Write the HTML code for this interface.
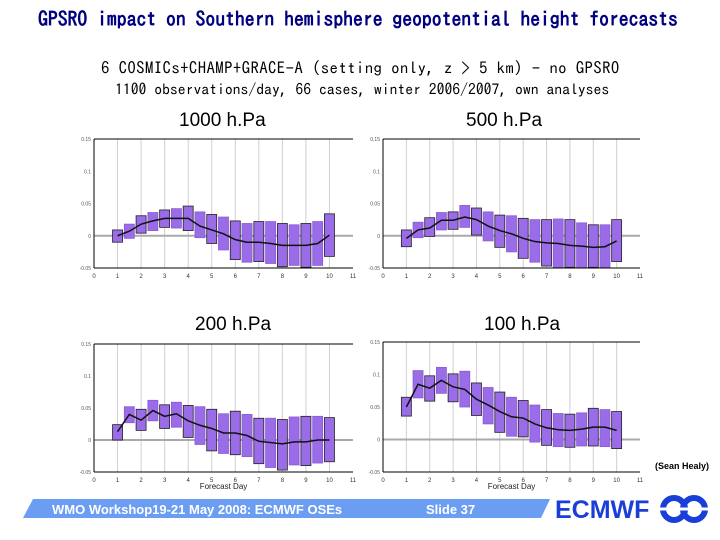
<!DOCTYPE html>
<html><head><meta charset="utf-8">
<style>
body{margin:0;width:720px;height:540px;background:#fff;overflow:hidden;position:relative;font-family:"Liberation Sans",sans-serif}
.t{position:absolute;white-space:nowrap}
</style></head>
<body>
<div class="t" style="left:38px;top:10px;font-size:19.7px;font-weight:bold;color:#000080;font-family:'IPAGothic',sans-serif">GPSRO impact on Southern hemisphere geopotential height forecasts</div>
<div class="t" style="left:101px;top:60px;font-size:16.8px;letter-spacing:0.4px;font-family:'IPAGothic',monospace">6 COSMICs+CHAMP+GRACE-A (setting only, z &gt; 5 km) - no GPSRO</div>
<div class="t" style="left:115px;top:81px;font-size:15.7px;font-family:'IPAGothic',monospace">1100 observations/day, 66 cases, winter 2006/2007, own analyses</div>
<div class="t" style="left:179px;top:110px;font-size:19px">1000 h.Pa</div>
<div class="t" style="left:466px;top:110px;font-size:19px">500 h.Pa</div>
<div class="t" style="left:195px;top:314px;font-size:19px">200 h.Pa</div>
<div class="t" style="left:484px;top:314px;font-size:19px">100 h.Pa</div>
<div class="t" style="left:655px;top:461px;font-size:9px;font-weight:bold">(Sean Healy)</div>

<svg id="svg" width="720" height="540" style="position:absolute;left:0;top:0">
<polygon points="33,499 550,499 541,518 23,518" fill="#6b9ef2"/>
<text x="52" y="514" font-size="13" font-weight="bold" fill="#fff" font-family="Liberation Sans">WMO Workshop19-21 May 2008:  ECMWF OSEs</text>
<text x="426" y="514" font-size="13" font-weight="bold" fill="#fff" font-family="Liberation Sans">Slide  37</text>
<text x="555" y="518" font-size="25" font-weight="bold" fill="#1a3fd8" font-family="Liberation Sans">ECMWF</text>
<g fill="none" stroke="#1a3fd8" stroke-width="6">
<circle cx="674" cy="509" r="11"/><circle cx="694" cy="509" r="11"/>
<line x1="660" y1="509" x2="708" y2="509" stroke="#fff" stroke-width="3"/>
</g>
</svg>

<script>
const days=[1,1.5,2,2.5,3,3.5,4,4.5,5,5.5,6,6.5,7,7.5,8,8.5,9,9.5,10];
const xTicks=[0,1,2,3,4,5,6,7,8,9,10,11];
const yTicks=[0.15,0.1,0.05,0,-0.05];
const yTickLabels=["0.15","0.1","0.05","0","-0.05"];
const top1000=[0.009,0.018,0.031,0.036,0.040,0.042,0.046,0.037,0.033,0.029,0.023,0.019,0.022,0.022,0.019,0.017,0.019,0.022,0.034];
const bot1000=[-0.010,-0.004,0.004,0.008,0.013,0.012,0.008,-0.003,-0.012,-0.022,-0.037,-0.041,-0.040,-0.043,-0.048,-0.046,-0.049,-0.046,-0.032];
const mean1000=[0,0.007,0.018,0.023,0.027,0.027,0.027,0.015,0.009,0.003,-0.006,-0.010,-0.010,-0.012,-0.015,-0.015,-0.015,-0.012,0.001];
const top500=[0.009,0.021,0.028,0.036,0.037,0.047,0.043,0.037,0.032,0.031,0.027,0.025,0.025,0.026,0.025,0.020,0.017,0.017,0.025];
const bot500=[-0.017,-0.003,-0.001,0.009,0.010,0.013,0.001,-0.008,-0.018,-0.025,-0.035,-0.041,-0.047,-0.049,-0.049,-0.049,-0.049,-0.049,-0.040];
const mean500=[-0.004,0.009,0.012,0.024,0.024,0.029,0.025,0.015,0.008,0.003,-0.004,-0.009,-0.011,-0.012,-0.015,-0.016,-0.018,-0.017,-0.008];
const top200=[0.024,0.052,0.048,0.062,0.055,0.059,0.054,0.052,0.048,0.041,0.045,0.040,0.034,0.034,0.032,0.036,0.037,0.037,0.035];
const bot200=[0,0.027,0.015,0.030,0.018,0.020,0.004,-0.007,-0.017,-0.021,-0.023,-0.026,-0.037,-0.043,-0.047,-0.039,-0.040,-0.036,-0.034];
const mean200=[0.013,0.040,0.031,0.046,0.037,0.041,0.030,0.023,0.018,0.011,0.011,0.007,-0.002,-0.004,-0.006,-0.003,-0.003,0,0];
const top100=[0.065,0.106,0.098,0.111,0.101,0.105,0.087,0.080,0.073,0.065,0.060,0.053,0.046,0.040,0.039,0.041,0.048,0.046,0.043];
const bot100=[0.036,0.064,0.059,0.071,0.058,0.050,0.037,0.024,0.011,0.005,0.004,-0.004,-0.009,-0.011,-0.012,-0.010,-0.010,-0.011,-0.014];
const mean100=[0.050,0.085,0.079,0.091,0.081,0.077,0.062,0.053,0.043,0.035,0.033,0.024,0.018,0.015,0.014,0.016,0.019,0.019,0.014];

const NS="http://www.w3.org/2000/svg";
const svg=document.getElementById('svg');
function mk(tag,attrs,parent){const e=document.createElementNS(NS,tag);for(const k in attrs)e.setAttribute(k,attrs[k]);(parent||svg).appendChild(e);return e;}

function chart(name,x0,x1,y0,y1,tops,bots,means,xlabel){
  const g=mk('g',{});
  
  
  const sx=d=>x0+(x1-x0)*d/11;
  const sy=v=>y1+(y0-y1)*(v+0.05)/0.2;
  xTicks.forEach(d=>{
    if(d>0&&d<11){const l=mk('line',{x1:sx(d),x2:sx(d),y1:y0,y2:y1,stroke:'#cfcfcf','stroke-width':1},g);
    
    }
    const t=mk('text',{x:sx(d),y:y1+10,'font-size':6,'text-anchor':'middle',fill:'#333','font-family':'Liberation Sans'},g);
    t.textContent=d;
    
    
  });
  yTicks.forEach((v,i)=>{
    const t=mk('text',{x:x0-3,y:sy(v)+2,'font-size':5,'text-anchor':'end',fill:'#555','font-family':'Liberation Sans'},g);
    t.textContent=yTickLabels[i];
    
    
  });
  const z=mk('line',{x1:x0,x2:x1,y1:sy(0),y2:sy(0),stroke:'#aaa','stroke-width':2},g);
  
  
  days.forEach((d,i)=>{
    const yt=sy(tops[i]),yb=sy(bots[i]);
    const r=mk('rect',{x:sx(d)-5,y:yt,width:10,height:yb-yt,fill:'#9b6ce8',stroke:i%2?'#8a5ad8':'#222','stroke-width':0.8},g);
    
    
  });
  const p=mk('polyline',{points:days.map((d,i)=>sx(d)+','+sy(means[i])).join(' '),fill:'none',stroke:'#111','stroke-width':1.5},g);
  
  
  mk('line',{x1:x0,x2:x1,y1:y0,y2:y0,stroke:'#000','stroke-width':1},g);
  mk('line',{x1:x0,x2:x1,y1:y1,y2:y1,stroke:'#000','stroke-width':1},g);
  mk('line',{x1:x0,x2:x0,y1:y0,y2:y1,stroke:'#000','stroke-width':1},g);
  if(xlabel){const t=mk('text',{x:sx(5.5),y:y1+17,'font-size':8,'text-anchor':'middle',fill:'#222','font-family':'Liberation Sans'},g);
    t.textContent='Forecast Day';
    
    }
}
chart('chart-1000hpa',94,353,139,268,top1000,bot1000,mean1000,false);
chart('chart-500hpa',383,640,139,268,top500,bot500,mean500,false);
chart('chart-200hpa',94,353,344,472,top200,bot200,mean200,true);
chart('chart-100hpa',383,640,342,472,top100,bot100,mean100,true);
</script>
</body></html>
